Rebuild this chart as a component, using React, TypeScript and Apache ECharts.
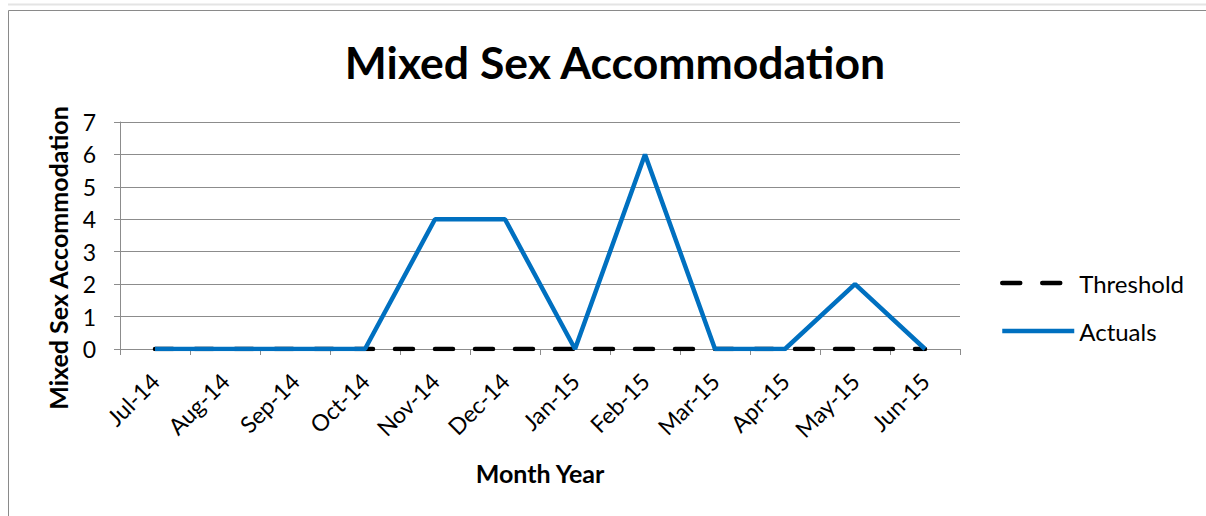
import React, { useEffect, useRef } from "react";
import * as echarts from "echarts";

const months = ["Jul-14","Aug-14","Sep-14","Oct-14","Nov-14","Dec-14","Jan-15","Feb-15","Mar-15","Apr-15","May-15","Jun-15"];
const threshold = [0,0,0,0,0,0,0,0,0,0,0,0];
const actuals = [0,0,0,0,4,4,0,6,0,0,2,0];
const yMin = 0;
const yMax = 7;
const yAxisTitle = "Mixed Sex Accommodation";

const FONT = "Lato, 'Open Sans', sans-serif";
const GRAY = "#8c8c8c";

export default function App() {
  const ref = useRef<HTMLDivElement>(null);
  useEffect(() => {
    if (!ref.current) return;
    const chart = echarts.init(ref.current, undefined, { renderer: "svg" });
    chart.setOption({
      animation: false,
      backgroundColor: "#ffffff",
      title: {
        text: "Mixed Sex Accommodation",
        left: 610,
        top: 34,
        textAlign: "center",
        textStyle: { fontFamily: FONT, fontWeight: "bold", fontSize: 44.5, color: "#000" },
      },
      graphic: [
        { type: "line", shape: { x1: 8, y1: 4.5, x2: 1206, y2: 4.5 }, style: { stroke: "#e4e4e4", lineWidth: 2 } },
        { type: "polyline", shape: { points: [[8.5, 516], [8.5, 10.5], [1206, 10.5]] }, style: { stroke: "#8a8a8a", lineWidth: 1, fill: "none" } },
        {
          type: "text",
          x: 58,
          y: 258,
          rotation: Math.PI / 2,
          style: {
            text: yAxisTitle,
            fontFamily: FONT,
            fontWeight: "bold",
            fontSize: 25,
            fill: "#000",
            align: "center",
            verticalAlign: "middle",
          },
        },
      ],
      legend: {
        orient: "vertical",
        left: 1000,
        top: 271,
        padding: 0,
        itemGap: 24,
        itemWidth: 72,
        itemHeight: 24,
        itemStyle: { opacity: 0 },
        lineStyle: { width: 4.5 },
        textStyle: { fontFamily: FONT, fontSize: 24, color: "#000" },
        data: ["Threshold", "Actuals"],
      },
      grid: { left: 120, top: 122, right: 246, bottom: 167 },
      xAxis: {
        type: "category",
        data: months,
        boundaryGap: true,
        name: "Month Year",
        nameLocation: "middle",
        nameGap: 124,
        nameTextStyle: { fontFamily: FONT, fontWeight: "bold", fontSize: 25, color: "#000", verticalAlign: "middle" },
        axisLine: { lineStyle: { color: GRAY, width: 1 } },
        axisTick: { show: true, length: 6, lineStyle: { color: GRAY } },
        axisLabel: { rotate: 45, margin: 28, fontFamily: FONT, fontSize: 23, color: "#000", interval: 0 },
      },
      yAxis: {
        type: "value",
        min: yMin,
        max: yMax,
        interval: 1,
        axisLine: { show: true, lineStyle: { color: GRAY, width: 1 } },
        axisTick: { show: true, length: 6, lineStyle: { color: GRAY } },
        axisLabel: { margin: 24, fontFamily: FONT, fontSize: 23, color: "#000" },
        splitLine: { show: true, lineStyle: { color: GRAY, width: 1 } },
      },
      series: [
        {
          name: "Threshold",
          type: "line",
          data: threshold,
          symbol: "none",
          z: 2,
          itemStyle: { color: "#000" },
          lineStyle: { color: "#000", width: 4.5, type: [18, 22], cap: "round" },
        },
        {
          name: "Actuals",
          type: "line",
          data: actuals,
          symbol: "none",
          z: 3,
          itemStyle: { color: "#0070C0" },
          lineStyle: { color: "#0070C0", width: 4.5 },
        },
      ],
    });
    return () => chart.dispose();
  }, []);
  return (
    <div
      ref={ref}
      style={{ position: "absolute", left: 0, top: 0, width: 1206, height: 516 }}
    />
  );
}
